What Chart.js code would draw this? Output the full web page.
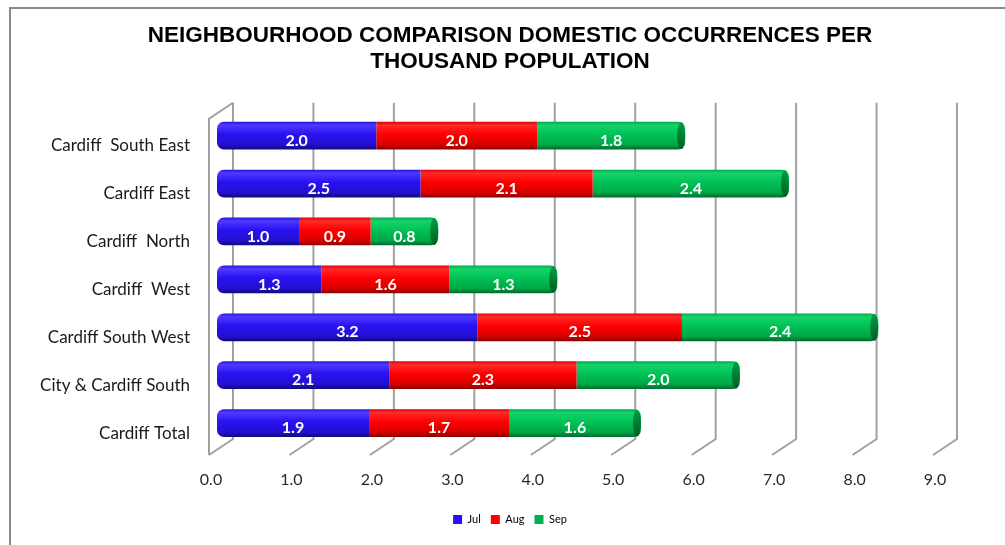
<!DOCTYPE html>
<html>
<head>
<meta charset="utf-8">
<script src="https://cdn.jsdelivr.net/npm/chart.js@4/dist/chart.umd.min.js"></script>
<style>
  html, body { margin: 0; padding: 0; background: #fff; }
  #wrap { position: relative; width: 1005px; height: 545px; }
  #frame { position: absolute; left: 9px; top: 7px; right: -10px; bottom: -10px;
           border-top: 2px solid #8a8a8a; border-left: 2px solid #8a8a8a; pointer-events: none; }
  canvas { position: absolute; left: 0; top: 0; }
</style>
</head>
<body>
<div id="wrap">
  <canvas id="c" width="1005" height="545"></canvas>
  <div id="frame"></div>
</div>
<script>
const titleLines = ["NEIGHBOURHOOD COMPARISON DOMESTIC OCCURRENCES PER", "THOUSAND POPULATION"];
const categories = ["Cardiff  South East", "Cardiff East", "Cardiff  North", "Cardiff  West",
                    "Cardiff South West", "City & Cardiff South", "Cardiff Total"];
const julValues = [1.98, 2.53, 1.02, 1.30, 3.24, 2.14, 1.89];
const augValues = [2.00, 2.14, 0.89, 1.59, 2.54, 2.33, 1.74];
const sepValues = [1.84, 2.44, 0.84, 1.34, 2.44, 2.03, 1.64];
const seriesNames = ["Jul", "Aug", "Sep"];
const tickValues = [0, 1, 2, 3, 4, 5, 6, 7, 8, 9];

const shades = {
  Jul: ["#2a14d8", "#4a3cff", "#2a10f2", "#2410d0", "#14087a"],
  Aug: ["#e00000", "#ff2a2a", "#ff0000", "#d80000", "#8a0000"],
  Sep: ["#00a848", "#12d468", "#00c257", "#00a647", "#006a2e"]
};
const flat = { Jul: "#2a10f2", Aug: "#ff0000", Sep: "#00b050" };

function cylFill(name) {
  return function (ctx) {
    const chart = ctx.chart;
    const ys = chart.scales.y;
    if (!ys || ctx.type !== 'data') return flat[name];
    const cy = ys.getPixelForValue(ctx.dataIndex);
    const band = (ys.bottom - ys.top) / categories.length;
    const h = band * 0.58;
    const g = chart.ctx.createLinearGradient(0, cy - h / 2, 0, cy + h / 2);
    const s = shades[name];
    g.addColorStop(0, s[0]);
    g.addColorStop(0.12, s[1]);
    g.addColorStop(0.45, s[2]);
    g.addColorStop(0.82, s[3]);
    g.addColorStop(1, s[4]);
    return g;
  };
}

const wallPlugin = {
  id: 'wall',
  beforeDatasetsDraw(chart) {
    const { ctx, chartArea } = chart;
    const xs = chart.scales.x;
    const backTop = chartArea.top - 9;
    const backBottom = chartArea.bottom - 8;
    const dx = 16, fx = -8, fy = 16;
    ctx.save();
    ctx.strokeStyle = '#a0a0a0';
    ctx.lineWidth = 2;
    tickValues.forEach(v => {
      const x = xs.getPixelForValue(v) + dx;
      ctx.beginPath();
      ctx.moveTo(x, backTop);
      ctx.lineTo(x, backBottom);
      ctx.lineTo(xs.getPixelForValue(v) + fx, backBottom + fy);
      ctx.stroke();
    });
    const x0b = xs.getPixelForValue(0) + dx;
    const x0f = xs.getPixelForValue(0) + fx;
    ctx.beginPath();
    ctx.moveTo(x0b, backTop);
    ctx.lineTo(x0f, backTop + fy);
    ctx.lineTo(x0f, backBottom + fy);
    ctx.stroke();
    ctx.restore();
  }
};

const labelPlugin = {
  id: 'barLabels',
  afterDatasetsDraw(chart) {
    const { ctx } = chart;
    ctx.save();
    const lastMeta = chart.getDatasetMeta(chart.data.datasets.length - 1);
    lastMeta.data.forEach(el => {
      const h = el.height;
      ctx.beginPath();
      ctx.ellipse(el.x - 4, el.y, 4, h / 2 - 0.5, 0, 0, Math.PI * 2);
      const g = ctx.createLinearGradient(0, el.y - h / 2, 0, el.y + h / 2);
      g.addColorStop(0, '#00a040');
      g.addColorStop(1, '#005a26');
      ctx.fillStyle = g;
      ctx.fill();
    });
    ctx.font = 'bold 16px Lato, "Open Sans", sans-serif';
    ctx.fillStyle = '#ffffff';
    ctx.textAlign = 'center';
    ctx.textBaseline = 'middle';
    chart.data.datasets.forEach((ds, di) => {
      const meta = chart.getDatasetMeta(di);
      meta.data.forEach((el, i) => {
        const cx = (el.x + el.base) / 2;
        ctx.fillText(ds.data[i].toFixed(1), cx, el.y + 5);
      });
    });
    ctx.restore();
  }
};

const radii = [
  { topLeft: 7, bottomLeft: 7, topRight: 0, bottomRight: 0 },
  0,
  { topLeft: 0, bottomLeft: 0, topRight: 7, bottomRight: 7 }
];
const valueLists = [julValues, augValues, sepValues];

new Chart(document.getElementById('c'), {
  type: 'bar',
  data: {
    labels: categories,
    datasets: seriesNames.map((n, i) => ({
      label: n,
      data: valueLists[i],
      backgroundColor: cylFill(n),
      borderWidth: 0,
      borderSkipped: false,
      borderRadius: radii[i],
      barPercentage: 0.58,
      categoryPercentage: 1.0
    }))
  },
  options: {
    indexAxis: 'y',
    responsive: false,
    animation: false,
    devicePixelRatio: 1,
    layout: { padding: { left: 25, right: 10, top: 0, bottom: 10 } },
    scales: {
      x: {
        stacked: true,
        min: 0, max: 9,
        afterFit(scale) { scale.height = 57; },
        afterBuildTicks(scale) { scale.ticks = tickValues.map(v => ({ value: v })); },
        grid: { display: false, drawTicks: false },
        border: { display: false },
        ticks: {
          padding: 23,
          labelOffset: -6,
          color: '#2a2a2a',
          font: { family: 'Lato, "Open Sans", sans-serif', size: 16 },
          callback: v => Number(v).toFixed(1)
        }
      },
      y: {
        stacked: true,
        afterFit(scale) { scale.width = 192; },
        grid: { display: false, drawTicks: false },
        border: { display: false },
        ticks: {
          padding: 27,
          labelOffset: 10,
          color: '#1a1a1a',
          font: { family: 'Lato, "Open Sans", sans-serif', size: 17 }
        }
      },
      yRight: {
        type: 'category',
        axis: 'y',
        position: 'right',
        labels: categories,
        afterFit(scale) { scale.width = 54; },
        grid: { display: false, drawTicks: false },
        border: { display: false },
        ticks: { display: false }
      }
    },
    plugins: {
      title: {
        display: true,
        text: titleLines,
        color: '#000000',
        font: { family: '"Liberation Sans", Arial, sans-serif', size: 22.5, weight: 'bold', lineHeight: 1.15 },
        padding: { top: 23, bottom: 37 }
      },
      legend: {
        position: 'bottom',
        labels: {
          boxWidth: 9, boxHeight: 9,
          padding: 10,
          color: '#333333',
          font: { family: 'Lato, "Open Sans", sans-serif', size: 11 },
          generateLabels(chart) {
            return chart.data.datasets.map((ds, i) => ({
              text: ds.label, fillStyle: flat[ds.label], strokeStyle: flat[ds.label],
              lineWidth: 0, hidden: false, datasetIndex: i
            }));
          }
        }
      },
      tooltip: { enabled: false }
    }
  },
  plugins: [wallPlugin, labelPlugin]
});
</script>
</body>
</html>
